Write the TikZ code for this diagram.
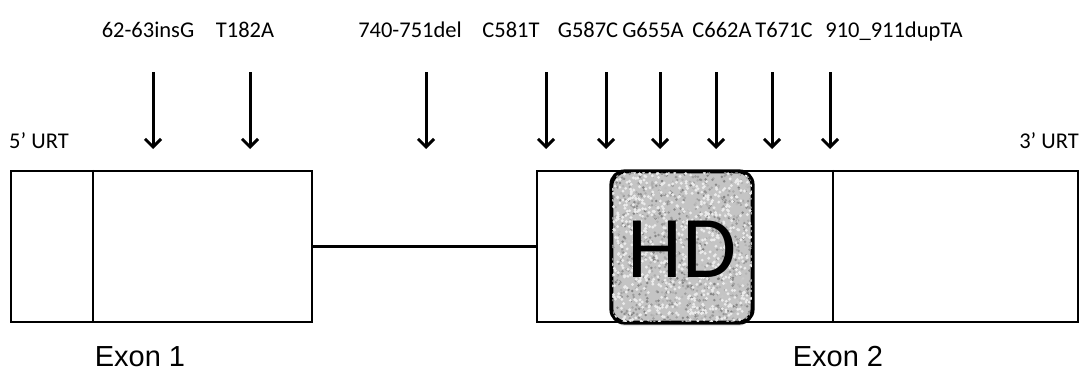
\documentclass[tikz,border=0pt]{standalone}
\usepackage{fontspec}
\usepackage{tikz}
\usepackage{xcolor}
\usetikzlibrary{arrows.meta,positioning,calc,shadows}
\setmainfont{Carlito}
\newfontfamily\exonfont{Liberation Sans}
\definecolor{Ink}{HTML}{000000}
\definecolor{Grain}{HTML}{C4C4C4}
\tikzset{
  exon/.style={draw=Ink, line width=2.4pt, minimum height=151pt, inner sep=0pt},
  mut/.style={Ink, line width=3pt, -{Straight Barb[length=8pt,width=16pt]}},
  mutlabel/.style={anchor=base, font=\fontsize{22.5}{25}\selectfont, inner sep=0pt},
  exonlabel/.style={font=\exonfont\fontsize{29}{32}\selectfont, inner sep=0pt}
}
\newcommand{\mutarrow}[2]{
  \coordinate (m#1top) at (#2,304);
  \coordinate (m#1tip) at (#2,227);
  \draw[mut] (m#1top) -- (m#1tip);
}
\begin{document}
\begin{tikzpicture}[x=1pt,y=1pt]
    \useasboundingbox (0,0) rectangle (1085,376);
    % exons and intron
    \node[exon, minimum width=301pt] (ex1) at (161.5,129.5) {};
    \node[exon, minimum width=541pt] (ex2) at (807.5,129.5) {};
    \draw[Ink, line width=2.4pt] (ex1.east) -- (ex2.west);
    \draw[Ink, line width=2.4pt] ($(ex1.north west)+(83,0)$) -- ($(ex1.south west)+(83,0)$);
    \draw[Ink, line width=2.4pt] ($(ex2.north west)+(297,0)$) -- ($(ex2.south west)+(297,0)$);
    % homeodomain
    \node[draw=Ink, line width=2.6pt, fill=Grain, rounded corners=14pt,
          minimum width=140pt, minimum height=150pt, inner sep=0pt,
          drop shadow={opacity=0.2, shadow xshift=0pt, shadow yshift=-4pt}] (hd) at (682,129) {};
    \begin{scope}
      \clip[rounded corners=13pt] ($(hd.south west)+(1.5,1.5)$) rectangle ($(hd.north east)-(1.5,1.5)$);
      \pgfmathsetseed{42}
      \foreach \i in {1,...,1100} {
        \pgfmathsetmacro{\px}{612+140*rnd}
        \pgfmathsetmacro{\py}{54+150*rnd}
        \pgfmathsetmacro{\sh}{int(20+30*rnd)}
        \fill[black!\sh] (\px,\py) circle (1.4pt);
      }
      \foreach \i in {1,...,700} {
        \pgfmathsetmacro{\px}{612+140*rnd}
        \pgfmathsetmacro{\py}{54+150*rnd}
        \fill[black!8] (\px,\py) circle (1.6pt);
      }
    \end{scope}
    \draw[Ink, line width=2.6pt, rounded corners=14pt] (hd.south west) rectangle (hd.north east);
    \node[font=\fontsize{88}{94}\selectfont, inner sep=0pt] (hdtext) at ($(hd.center)+(0,-2)$) {HD};
    % mutations
    \mutarrow{a}{153}
    \mutarrow{b}{250}
    \mutarrow{c}{426}
    \mutarrow{d}{546}
    \mutarrow{e}{606}
    \mutarrow{f}{660}
    \mutarrow{g}{716}
    \mutarrow{h}{772}
    \mutarrow{i}{830}
    \node[mutlabel] (la) at (148,338) {62-63insG};
    \node[mutlabel] (lb) at (245,338) {T182A};
    \node[mutlabel] (lc) at (410,338) {740-751del};
    \node[mutlabel] (ld) at (511,338) {C581T};
    \node[mutlabel] (le) at (588,338) {G587C};
    \node[mutlabel] (lf) at (653,338) {G655A};
    \node[mutlabel] (lg) at (722,338) {C662A};
    \node[mutlabel] (lh) at (784,338) {T671C};
    \node[mutlabel] (li) at (894,338) {910\_911dupTA};
    % UTR and exon names
    \node[mutlabel, anchor=base west] (utr5) at (9,228) {5’ URT};
    \node[mutlabel, anchor=base east] (utr3) at (1079,228) {3’ URT};
    \node[exonlabel] (n1) at (140,19) {Exon 1};
    \node[exonlabel] (n2) at (838,19) {Exon 2};
  \end{tikzpicture}
\end{document}
